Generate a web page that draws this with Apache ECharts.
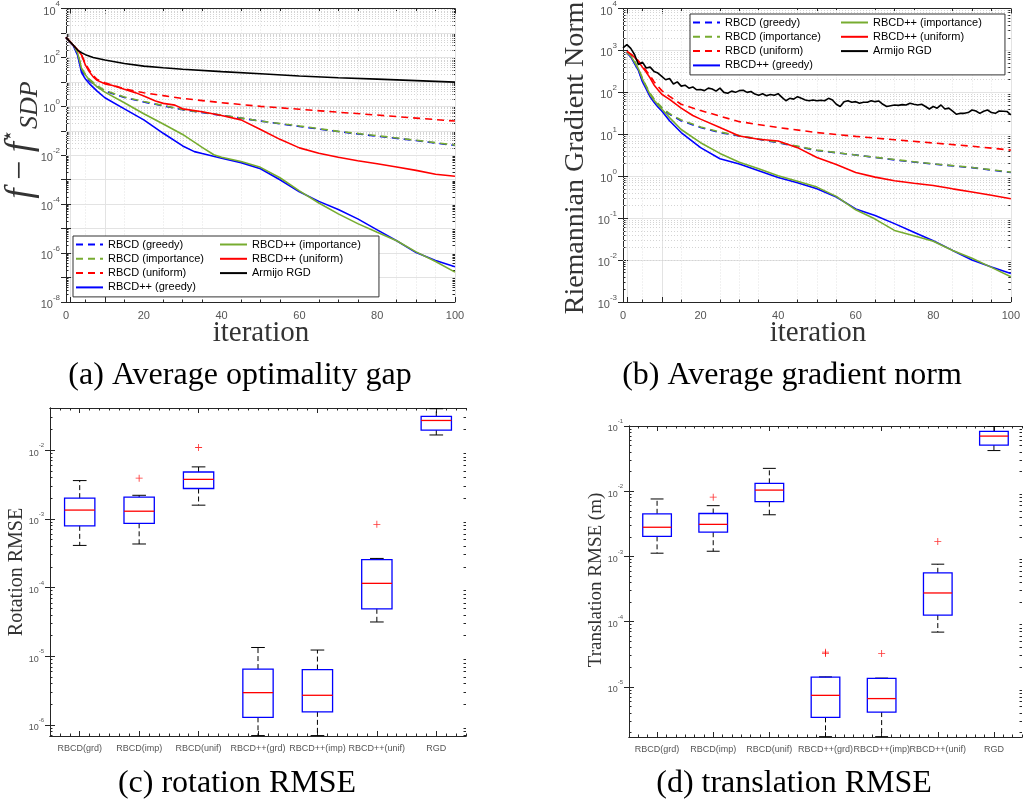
<!DOCTYPE html>
<html><head><meta charset="utf-8">
<script src="https://cdn.jsdelivr.net/npm/echarts@6/dist/echarts.min.js"></script>
<style>html,body{margin:0;padding:0;background:#fff}#c{width:1023px;height:801px}</style>
</head><body><div id="c"></div><script>
// ---------------- data ----------------
const seriesNames = ['RBCD (greedy)','RBCD (importance)','RBCD (uniform)','RBCD++ (greedy)','RBCD++ (importance)','RBCD++ (uniform)','Armijo RGD'];

// (a) average optimality gap  [iteration, f - f*]
const gapRbcdGreedy = [[0,660],[1,420],[2,280],[3,130],[4,30],[5,17],[6,11],[8,6.3],[10,4.2],[15,2.3],[20,1.5],[25,1.05],[30,0.72],[40,0.43],[50,0.25],[60,0.15],[70,0.093],[80,0.06],[90,0.04],[100,0.025]];
const gapRbcdImportance = [[0,660],[1,430],[2,300],[3,150],[4,36],[5,20],[6,13],[8,7.1],[10,4.5],[15,2.4],[20,1.58],[25,1.07],[30,0.74],[40,0.44],[50,0.25],[60,0.158],[70,0.095],[80,0.063],[90,0.041],[100,0.026]];
const gapRbcdUniform = [[0,660],[1,450],[2,300],[3,200],[4,125],[5,55],[6,30],[7,18],[8,12.6],[10,9.3],[15,5.2],[20,3.6],[25,2.75],[30,2.1],[40,1.41],[50,1.0],[60,0.76],[70,0.575],[80,0.44],[90,0.33],[100,0.25]];
const gapRbcdppGreedy = [[0,660],[1,420],[2,280],[3,120],[4,24],[5,13],[6,8.5],[8,4.2],[10,2.24],[15,0.79],[20,0.28],[25,0.079],[30,0.024],[33,0.0141],[35,0.0117],[40,0.0076],[45,0.005],[50,0.0028],[55,0.001],[60,3.2e-4],[65,1.3e-4],[70,6.0e-5],[75,2.5e-5],[80,8.9e-6],[85,3.2e-6],[90,1.05e-6],[95,5.0e-7],[100,2.75e-7]];
const gapRbcdppImportance = [[0,660],[1,430],[2,300],[3,150],[4,35],[5,19],[6,12],[8,6.2],[10,3.8],[15,1.41],[20,0.5],[25,0.19],[30,0.071],[35,0.021],[38,0.0105],[40,0.0083],[45,0.0056],[50,0.0032],[55,0.0012],[60,3.5e-4],[65,1.12e-4],[70,4.0e-5],[75,1.6e-5],[80,7.1e-6],[85,3.2e-6],[90,1.12e-6],[95,4.5e-7],[100,1.66e-7]];
const gapRbcdppUniform = [[0,660],[1,450],[2,300],[3,200],[4,125],[5,48],[6,26],[7,16],[8,11.5],[10,8.3],[12,7.1],[15,5.0],[18,3.55],[20,2.63],[23,1.66],[25,1.32],[28,1.12],[30,0.79],[35,0.6],[40,0.42],[45,0.28],[50,0.112],[55,0.0447],[60,0.02],[65,0.012],[70,0.0083],[75,0.006],[80,0.0045],[85,0.0033],[90,0.0024],[95,0.00166],[100,0.00138]];
const gapArmijo = [[0,660],[1,450],[2,300],[3,200],[4,155],[5,130],[7,100],[10,78],[15,56],[20,44],[25,38],[30,33],[40,26.3],[50,21.4],[60,17.4],[70,14.8],[80,12.9],[90,11.2],[100,9.8]];

// (b) average Riemannian gradient norm  [iteration, norm]
const normRbcdGreedy = [[1,900],[2,750],[3,520],[4,330],[5,200],[6,130],[7,90],[8,66],[9,52],[10,42],[12,30],[15,21],[20,14.5],[25,11],[30,9.1],[40,6.3],[50,4.1],[60,3.2],[70,2.45],[80,1.95],[90,1.6],[100,1.23]];
const normRbcdImportance = [[1,920],[2,770],[3,560],[4,360],[5,220],[6,140],[7,95],[8,70],[9,55],[10,44],[12,31],[15,22],[20,15],[25,11.3],[30,9.3],[40,6.4],[50,4.2],[60,3.2],[70,2.5],[80,1.97],[90,1.62],[100,1.25]];
const normRbcdUniform = [[1,950],[2,820],[3,680],[4,560],[5,430],[6,330],[7,250],[8,180],[9,140],[10,110],[12,80],[15,52],[20,37],[25,27],[30,20],[40,14.5],[50,11],[60,8.9],[70,7.4],[80,6.2],[90,5.2],[100,4.2]];
const normRbcdppGreedy = [[1,880],[2,700],[3,480],[4,330],[5,180],[6,120],[7,78],[8,58],[9,45],[10,36],[12,21],[15,11],[20,4.8],[25,2.6],[30,1.95],[35,1.35],[40,0.93],[45,0.7],[50,0.5],[55,0.32],[60,0.166],[65,0.115],[70,0.074],[75,0.046],[80,0.029],[85,0.017],[90,0.01],[95,0.0068],[100,0.0048]];
const normRbcdppImportance = [[1,900],[2,740],[3,520],[4,360],[5,210],[6,135],[7,88],[8,65],[9,50],[10,40],[12,25],[15,13],[20,6.3],[25,3.5],[30,2.15],[35,1.5],[40,1.02],[45,0.76],[50,0.55],[55,0.33],[60,0.158],[65,0.095],[70,0.051],[75,0.038],[80,0.028],[85,0.017],[90,0.011],[95,0.0067],[100,0.004]];
const normRbcdppUniform = [[1,950],[2,820],[3,680],[4,540],[5,400],[6,300],[7,220],[8,150],[9,115],[10,90],[12,68],[15,42],[18,28],[20,23],[25,14.5],[30,9.1],[35,7.6],[40,6.9],[45,4.8],[50,2.8],[55,1.9],[60,1.23],[65,0.95],[70,0.78],[75,0.68],[80,0.6],[85,0.5],[90,0.42],[95,0.35],[100,0.29]];
const normArmijo = [[0,1150],[1,1380],[2,1120],[3,790],[4,457],[5,525],[6,380],[7,400],[8,316],[9,288],[10,240],[11,200],[12,214],[13,158],[14,178],[15,141],[16,148],[17,126],[18,135],[19,115],[20,117],[21,110],[22,126],[23,120],[24,107],[25,126],[26,100],[27,95],[28,107],[29,100],[30,110],[31,112],[32,100],[33,105],[34,91],[35,85],[36,93],[37,83],[38,89],[39,85],[40,93],[41,76],[42,63],[43,72],[44,69],[45,79],[46,72],[47,66],[48,63],[49,66],[50,63],[51,65],[52,63],[53,72],[54,66],[55,52],[56,46],[57,60],[58,63],[59,58],[60,60],[61,55],[62,58],[63,58],[64,63],[65,60],[66,62],[67,52],[68,46],[69,48],[70,50],[71,49],[72,51],[73,50],[74,55],[75,52],[76,50],[77,52],[78,46],[79,40],[80,46],[81,42],[82,50],[83,40],[84,42],[85,35.5],[86,30],[87,31.6],[88,31.6],[89,33],[90,38],[91,36],[92,31.6],[93,35.5],[94,38],[95,33],[96,31.6],[97,36],[98,35.5],[99,35],[100,29]];

// (c), (d) box plots
const boxCategories = ['RBCD(grd)','RBCD(imp)','RBCD(unif)','RBCD++(grd)','RBCD++(imp)','RBCD++(unif)','RGD'];
const rotLow  = [4.1e-4, 4.3e-4, 1.58e-3, 7.0e-7, 7.0e-7, 3.15e-5, 1.66e-2];
const rotQ1   = [7.9e-4, 8.6e-4, 2.76e-3, 1.29e-6, 1.55e-6, 4.9e-5, 1.95e-2];
const rotMed  = [1.34e-3, 1.29e-3, 3.75e-3, 2.95e-6, 2.7e-6, 1.15e-4, 2.7e-2];
const rotQ3   = [2.0e-3, 2.07e-3, 4.8e-3, 6.5e-6, 6.4e-6, 2.55e-4, 3.1e-2];
const rotHigh = [3.6e-3, 2.2e-3, 5.7e-3, 1.34e-5, 1.23e-5, 2.65e-4, 4.0e-2];
const rotOutliers = [[1,3.9e-3],[2,1.09e-2],[5,8.3e-4]];
const transLow  = [1.12e-3, 1.2e-3, 4.35e-3, 1.72e-6, 1.72e-6, 6.9e-5, 4.2e-2];
const transQ1   = [2.03e-3, 2.35e-3, 6.9e-3, 3.4e-6, 4.1e-6, 1.26e-4, 5.1e-2];
const transMed  = [2.8e-3, 3.1e-3, 1.04e-2, 7.4e-6, 6.6e-6, 2.75e-4, 7.0e-2];
const transQ3   = [4.5e-3, 4.55e-3, 1.32e-2, 1.41e-5, 1.35e-5, 5.6e-4, 8.3e-2];
const transHigh = [7.6e-3, 6.0e-3, 2.24e-2, 1.42e-5, 1.36e-5, 7.6e-4, 9.9e-2];
const transOutliers = [[1,8.1e-3],[3,3.4e-5],[3,3.25e-5],[4,3.25e-5],[5,1.7e-3]];

// axis tick labels
const gapTickLabels = [1e-8, 1e-6, 1e-4, 1e-2, 1, 1e2, 1e4];

// ---------------- styles ----------------
const SANS = 'Liberation Sans, Arial, sans-serif';
const SERIF = 'Liberation Serif, Times New Roman, serif';
const AX = '#262626', LBL = '#555555';
const DASH = [7,5];
const styleOf = {
  'RBCD (greedy)': ['#0000ff', DASH],
  'RBCD (importance)': ['#77ac30', DASH],
  'RBCD (uniform)': ['#ff0000', DASH],
  'RBCD++ (greedy)': ['#0000ff', 'solid'],
  'RBCD++ (importance)': ['#77ac30', 'solid'],
  'RBCD++ (uniform)': ['#ff0000', 'solid'],
  'Armijo RGD': ['#000000', 'solid']
};
const gapData = [gapRbcdGreedy, gapRbcdImportance, gapRbcdUniform, gapRbcdppGreedy, gapRbcdppImportance, gapRbcdppUniform, gapArmijo];
const normData = [normRbcdGreedy, normRbcdImportance, normRbcdUniform, normRbcdppGreedy, normRbcdppImportance, normRbcdppUniform, normArmijo];

function lineSeries(name, data, idx) {
  const [c, t] = styleOf[name];
  return { type:'line', name, data, xAxisIndex: idx, yAxisIndex: idx, symbol:'none', showSymbol:false,
    lineStyle:{color:c, type:t, width:1.6}, itemStyle:{color:c}, z:5, clip:true, animation:false };
}
// decoration helpers: decades and log minor positions (2..9 x 10^k)
function decades(lo, hi) { const out = []; for (let k = lo; k <= hi; k++) out.push(Math.pow(10, k)); return out; }
function minorValues(lo, hi, min, max) {
  const out = [];
  for (let k = lo; k < hi; k++) for (let m = 2; m <= 9; m++) { const v = m * Math.pow(10, k); if (v > min && v < max) out.push(v); }
  return out;
}
function gridLineSeries(idx, vals, style) {
  return { type:'line', data:[], xAxisIndex:idx, yAxisIndex:idx, silent:true, z:1,
    markLine:{ silent:true, symbol:['none','none'], label:{show:false}, animation:false,
      lineStyle:style, emphasis:{disabled:true}, data: vals.map(v => ({yAxis: v})) } };
}
function logLabel(size, sup) {
  return { color: LBL, margin: 6,
    formatter: v => '{b|10}{s|' + Math.round(Math.log10(v)) + '}',
    rich: { b:{fontSize:size, fontFamily:SANS, color:LBL, verticalAlign:'bottom', lineHeight:size+6},
            s:{fontSize:sup, fontFamily:SANS, color:LBL, verticalAlign:'top', lineHeight:size+6} } };
}
const axLine = {show:true, lineStyle:{color:AX, width:1}};

function boxRender(params, api) {
  const i = api.value(0);
  const pLo = api.coord([i, api.value(1)]);
  const pQ1 = api.coord([i, api.value(2)]);
  const pMed = api.coord([i, api.value(3)]);
  const pQ3 = api.coord([i, api.value(4)]);
  const pHi = api.coord([i, api.value(5)]);
  const band = api.size([1, 0])[0];
  const bw = band * 0.51, cw = band * 0.23, cx = pMed[0];
  const dash = {stroke:'#000', lineWidth:1, lineDash:[5,3], fill:null};
  const solid = {stroke:'#000', lineWidth:1, fill:null};
  return { type:'group', children:[
    {type:'line', shape:{x1:cx, y1:pQ3[1], x2:cx, y2:pHi[1]}, style:dash},
    {type:'line', shape:{x1:cx, y1:pQ1[1], x2:cx, y2:pLo[1]}, style:dash},
    {type:'line', shape:{x1:cx-cw/2, y1:pHi[1], x2:cx+cw/2, y2:pHi[1]}, style:solid},
    {type:'line', shape:{x1:cx-cw/2, y1:pLo[1], x2:cx+cw/2, y2:pLo[1]}, style:solid},
    {type:'rect', shape:{x:cx-bw/2, y:pQ3[1], width:bw, height:pQ1[1]-pQ3[1]}, style:{fill:'none', stroke:'#0000ff', lineWidth:1.3}},
    {type:'line', shape:{x1:cx-bw/2, y1:pMed[1], x2:cx+bw/2, y2:pMed[1]}, style:{stroke:'#ff0000', lineWidth:1.3, fill:null}}
  ]};
}
function boxSeries(idx, lo, q1, med, q3, hi) {
  return { type:'custom', xAxisIndex:idx, yAxisIndex:idx, renderItem: boxRender, clip:true, z:5,
    encode:{x:0, y:[1,2,3,4,5]},
    data: boxCategories.map((c, i) => [i, lo[i], q1[i], med[i], q3[i], hi[i]]) };
}
const PLUS = 'path://M4.4,0H5.6V4.4H10V5.6H5.6V10H4.4V5.6H0V4.4H4.4Z';
function outlierSeries(idx, pts) {
  return { type:'scatter', xAxisIndex:idx, yAxisIndex:idx, data:pts, symbol:PLUS, symbolSize:7,
    itemStyle:{color:'#ff0000'}, z:6, clip:true };
}

const grids = [
  {left:66, top:7, width:389, height:295},
  {left:623, top:7, width:388, height:295},
  {left:50, top:408, width:416, height:328},
  {left:629, top:426, width:393, height:311}
];
const tick = {show:true, inside:true, length:5, lineStyle:{color:AX}};
function valX(g) {
  return { type:'value', gridIndex:g, min:0, max:100, interval:20, axisLine:axLine, axisTick:tick,
    minorTick:{show:true, splitNumber:4, length:2.5, lineStyle:{color:AX}},
    axisLabel:{color:LBL, fontSize:11, fontFamily:SANS, margin:8},
    splitLine:{show:true, lineStyle:{color:'#e3e3e3', width:1}},
    minorSplitLine:{show:true, lineStyle:{color:'#e2e2e2', type:[1,2], width:1}} };
}
function mirrorX(g) {
  return {type:'value', min:0, max:100, interval:20, axisTick:tick, gridIndex:g, position:'top', axisLine:axLine,
    minorTick:{show:true, splitNumber:4, length:2.5, lineStyle:{color:AX}}, axisLabel:{show:false}, splitLine:{show:false}};
}
function bandTicks(g, pos) {   // fine ticks along the category axes (6 per box slot)
  const vals = []; for (let k = 0; k <= 42; k++) vals.push(k / 6);
  return { type:'value', gridIndex:g, min:0, max:7, position:pos, axisLine:axLine, axisLabel:{show:false}, splitLine:{show:false},
    axisTick:{show:true, inside:true, length:2.5, lineStyle:{color:AX}, customValues: vals} };
}
function logY(g, min, max, split, label, grid) {
  return { type:'log', logBase:10, gridIndex:g, min, max, splitNumber:split, axisLine:axLine, axisTick:tick,
    axisLabel: label, splitLine:{show:grid, lineStyle:{color:'#e3e3e3', width:1}} };
}
function mirrorY(g, min, max, split) {
  return { type:'log', logBase:10, gridIndex:g, min, max, splitNumber:split, position:'right', axisLine:axLine,
    axisTick:tick, axisLabel:{show:false}, splitLine:{show:false} };
}
function minorY(g, min, max, vals, pos) {
  return { type:'log', logBase:10, gridIndex:g, min, max, position:pos, axisLine:{show:false}, axisLabel:{show:false}, splitLine:{show:false},
    axisTick:{show:true, inside:true, length:2.5, lineStyle:{color:AX}, customValues: vals} };
}
function catX(g) {
  return { type:'category', gridIndex:g, data:boxCategories, axisLine:axLine,
    axisTick:Object.assign({alignWithLabel:true}, tick),
    axisLabel:{interval:0, color:LBL, fontSize:9, fontFamily:SANS, margin:8},
    splitLine:{show:false} };
}
function catXTop(g) {
  return { type:'category', gridIndex:g, data:boxCategories, position:'top', axisLine:axLine,
    axisTick:Object.assign({alignWithLabel:true}, tick), axisLabel:{show:false}, splitLine:{show:false} };
}

const extent = [[1e-8, 1e4], [1e-3, 1e4], [6.9e-7, 4.1e-2], [1.7e-6, 1e-1]];
const minorA = minorValues(-8, 4, 1e-8, 1e4), minorB = minorValues(-3, 4, 1e-3, 1e4);
const minorC = minorValues(-7, -1, 6.9e-7, 4.1e-2), minorD = minorValues(-6, -1, 1.7e-6, 1e-1);

const xAxis = [valX(0), valX(1), catX(2), catX(3), mirrorX(0), mirrorX(1), catXTop(2), catXTop(3),
  bandTicks(2,'bottom'), bandTicks(2,'top'), bandTicks(3,'bottom'), bandTicks(3,'top')];
const yA = logY(0, 1e-8, 1e4, 6, logLabel(11, 8), true);
yA.axisLabel.customValues = gapTickLabels;
yA.axisTick.customValues = decades(-8, 4);
const yAR = mirrorY(0, 1e-8, 1e4, 6);
yAR.axisTick = Object.assign({}, tick, {customValues: decades(-8, 4)});
const yAxis = [
  yA,
  logY(1, 1e-3, 1e4, 7, logLabel(11, 8), true),
  logY(2, 6.9e-7, 4.1e-2, 5, logLabel(9, 6), false),
  logY(3, 1.7e-6, 1e-1, 5, logLabel(9, 6), false),
  yAR, mirrorY(1, 1e-3, 1e4, 7), mirrorY(2, 6.9e-7, 4.1e-2, 5), mirrorY(3, 1.7e-6, 1e-1, 5),
  minorY(0, 1e-8, 1e4, minorA, 'left'), minorY(0, 1e-8, 1e4, minorA, 'right'),
  minorY(1, 1e-3, 1e4, minorB, 'left'), minorY(1, 1e-3, 1e4, minorB, 'right'),
  minorY(2, 6.9e-7, 4.1e-2, minorC, 'left'), minorY(2, 6.9e-7, 4.1e-2, minorC, 'right'),
  minorY(3, 1.7e-6, 1e-1, minorD, 'left'), minorY(3, 1.7e-6, 1e-1, minorD, 'right')
];
yAxis[2].axisLabel.showMinLabel = false; yAxis[2].axisLabel.showMaxLabel = false;
yAxis[3].axisLabel.showMinLabel = false;

const minorStyle = {color:'#d4d4d4', type:[1,2], width:1};
const series = [
  gridLineSeries(0, minorA, minorStyle),
  gridLineSeries(1, minorB, minorStyle),
  gridLineSeries(0, decades(-7, 3), {color:'#e3e3e3', type:'solid', width:1})
];
seriesNames.forEach((n, i) => series.push(lineSeries(n, gapData[i], 0)));
seriesNames.forEach((n, i) => series.push(lineSeries(n, normData[i], 1)));
series.push(boxSeries(2, rotLow, rotQ1, rotMed, rotQ3, rotHigh), outlierSeries(2, rotOutliers));
series.push(boxSeries(3, transLow, transQ1, transMed, transQ3, transHigh), outlierSeries(3, transOutliers));

const legText = {fontSize:11, fontFamily:SANS, color:'#000', lineHeight:14};
function legend(left, top, names, boxed, padRight) {
  return Object.assign({ left, top, orient:'vertical', data:names, itemWidth:27, itemHeight:10, itemGap:0.3,
    selectedMode:false, textStyle:legText, z:10, itemStyle:{opacity:0} },
    boxed ? {padding:[1.5, padRight, 2.5, 2], borderColor:'#333', borderWidth:1, backgroundColor:'#fff'}
          : {padding:0, z:11});
}
const legends = [
  legend(73, 236, seriesNames.slice(0,4), true, 175),
  legend(219, 237.5, seriesNames.slice(4), false),
  legend(690, 14, seriesNames.slice(0,4), true, 184),
  legend(840, 15.5, seriesNames.slice(4), false)
];

function txt(x, y, text, size, rot, color) {
  return { type:'text', x, y, rotation: rot || 0, z:20,
    style: { text, fontSize:size, fontFamily:SERIF, fill: color || '#000', textAlign:'center', textVerticalAlign:'middle', align:'center', verticalAlign:'middle' } };
}
const yLabelA = txt(21, 140, '{i|f}{o| − }{i|f}{s|⋆}{d|SDP}', 34, Math.PI/2, '#333');
yLabelA.style.rich = {
  i:{fontSize:37, fontStyle:'italic', fontFamily:SERIF, fill:'#333', verticalAlign:'middle', lineHeight:44},
  o:{fontSize:34, fontFamily:SERIF, fill:'#333', verticalAlign:'middle', lineHeight:44},
  s:{fontSize:20, fontFamily:SERIF, fill:'#333', verticalAlign:'top', lineHeight:44},
  d:{fontSize:26, fontStyle:'italic', fontFamily:SERIF, fill:'#333', verticalAlign:'bottom', lineHeight:44}
};
const graphic = [
  yLabelA,
  txt(576, 158, 'Riemannian Gradient Norm', 28, Math.PI/2, '#333'),
  txt(261, 333, 'iteration', 29, 0, '#333'),
  txt(818, 333, 'iteration', 29, 0, '#333'),
  txt(240, 376, '(a) Average optimality gap', 32),
  txt(792, 376, '(b) Average gradient norm', 32),
  txt(17, 572, 'Rotation RMSE', 20, Math.PI/2, '#333'),
  txt(596, 580, 'Translation RMSE (m)', 19, Math.PI/2, '#333'),
  txt(237, 784, '(c) rotation RMSE', 32),
  txt(794, 784, '(d) translation RMSE', 32)
];

const chart = echarts.init(document.getElementById('c'), null, {renderer:'canvas'});
chart.setOption({ animation:false, backgroundColor:'#fff', grid:grids, xAxis, yAxis, series, legend:legends, graphic });
</script></body></html>
